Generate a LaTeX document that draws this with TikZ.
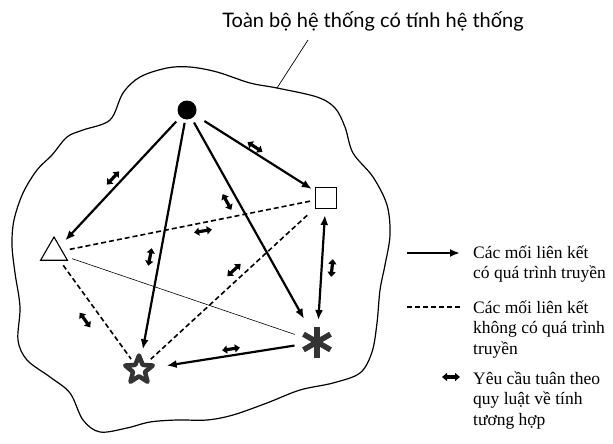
\documentclass[tikz,border=0pt]{standalone}
\usepackage{fontspec}
\setmainfont{Liberation Serif}
\newfontfamily\titlefont{Lato}
\newfontfamily\legendfont{Liberation Serif}
\newcommand{\legfont}{\legendfont\fontsize{17.5}{21}\selectfont}
\usetikzlibrary{arrows.meta,calc,shapes.geometric}
\begin{document}
\begin{tikzpicture}[x=1pt,y=-1pt,
  link/.style={line width=2.2pt,-{Latex[length=10pt,width=8pt]}},
  bilink/.style={line width=2.2pt,{Latex[length=10pt,width=8pt]}-{Latex[length=10pt,width=8pt]}},
  nolink/.style={line width=1.6pt,dash pattern=on 5pt off 3pt},
  thinlink/.style={line width=0.6pt},
  compat/.style={line width=3.2pt,{Triangle[length=5pt,width=8pt]}-{Triangle[length=5pt,width=8pt]}},
  legtext/.style={anchor=base west,inner sep=0},
  astr/.style={line width=5.5pt,draw=black!80},
]
\useasboundingbox (0,0) rectangle (613,444);

% outline
\draw[line width=1.2pt] plot[smooth cycle, tension=0.55] coordinates {
(190,67) (217,72) (250,83) (277,88) (317,97) (335,108) (345,127) (353,153)
(373,177) (387,205) (390,235) (385,265) (380,290) (377,323) (372,352) (360,373)
(333,383) (300,390) (267,403) (233,415) (207,420) (177,420) (150,422) (127,428)
(100,432) (83,420) (70,393) (50,377) (27,360) (18,340) (20,307) (15,273)
(12,245) (14,220) (23,193) (37,170) (52,155) (67,137) (83,130) (110,120)
(123,93) (140,77) (167,68)};

% title and leader
\node[anchor=base, inner sep=0] (title) at (373,28) {\titlefont\fontsize{20}{24}\selectfont Toàn bộ hệ thống có tính hệ thống};
\coordinate (lt) at (308,40);
\coordinate (lb) at (277,88);
\draw[line width=0.7pt] (lt) -- (lb);

% nodes
\node[circle,fill=black,minimum size=19pt,inner sep=0] (a) at (187,110) {};
\node[draw,line width=1.1pt,minimum size=21pt,inner sep=0] (b) at (326,198) {};
\node[draw,line width=1.1pt,regular polygon,regular polygon sides=3,minimum size=31pt,inner sep=0] (c) at (54,252.5) {};
\node[star,star points=5,star point ratio=2.3,minimum size=29pt,inner sep=0,draw=black!80,line width=4.5pt,line join=round,fill=white] (s) at (139,370) {};
\node[circle,minimum size=30pt,inner sep=0] (e) at (317,342) {};
\draw[astr] ($(e)+(0,-15.5)$) -- ($(e)+(0,15.5)$);
\draw[astr] ($(e)+(-13.5,-7.8)$) -- ($(e)+(13.5,7.8)$);
\draw[astr] ($(e)+(-13.5,7.8)$) -- ($(e)+(13.5,-7.8)$);

% connectors
\draw[link] ($(a)!15.8pt!(c)$) -- ($(c)!16.4pt!(a)$);
\draw[link] ($(a)!20.6pt!(b)$) -- ($(b)!16.8pt!(a)$);
\draw[link] ($(a)!13pt!(s)$) -- ($(s)!21pt!(a)$);
\draw[link] ($(a)!14.4pt!(e)$) -- ($(e)!26.6pt!(a)$);
\draw[bilink] ($(b)!17.1pt!(e)$) -- ($(e)!22pt!(b)$);
\draw[link] ($(e)!22.8pt!(s)$) -- ($(s)!28pt!(e)$);
\draw[nolink] ($(c)!16.1pt!(b)$) -- ($(b)!13.9pt!(c)$);
\draw[nolink] ($(c)!15.8pt!(s)$) -- ($(s)!13.5pt!(c)$);
\draw[nolink] ($(b)!25.5pt!(s)$) -- ($(s)!16pt!(b)$);
\draw[thinlink] ($(c)!19.1pt!(e)$) -- ($(e)!23.4pt!(c)$);

% compatibility marks
\coordinate (m1a) at (106.9,184.6); \coordinate (m1b) at (119.1,171.4);
\coordinate (m2a) at (247.5,142.1); \coordinate (m2b) at (262.5,151.9);
\coordinate (m3a) at (222.7,194.1); \coordinate (m3b) at (231.3,209.9);
\coordinate (m4a) at (194.1,232.5); \coordinate (m4b) at (211.9,229.5);
\coordinate (m5a) at (151.7,248.2); \coordinate (m5b) at (148.3,265.8);
\coordinate (m6a) at (79.7,312.7);  \coordinate (m6b) at (90.3,327.3);
\coordinate (m7a) at (240.7,263.9); \coordinate (m7b) at (227.3,276.1);
\coordinate (m8a) at (332.9,259.1); \coordinate (m8b) at (331.1,276.9);
\coordinate (m9a) at (239.9,347.6); \coordinate (m9b) at (222.1,350.4);
\foreach \i in {1,...,9} {\draw[compat] (m\i a) -- (m\i b);}

% legend
\coordinate (l1a) at (407,253); \coordinate (l1b) at (460,253);
\draw[link] (l1a) -- (l1b);
\node[legtext] (t11) at (473,258) {\legfont Các mối liên kết};
\node[legtext] (t12) at (473,278) {\legfont có quá trình truyền};
\coordinate (l2a) at (407,307); \coordinate (l2b) at (460,307);
\draw[nolink,line width=1.3pt] (l2a) -- (l2b);
\node[legtext] (t21) at (473,313) {\legfont Các mối liên kết};
\node[legtext] (t22) at (473,333.5) {\legfont không có quá trình};
\node[legtext] (t23) at (473,354) {\legfont truyền};
\coordinate (l3a) at (442,377); \coordinate (l3b) at (460,377);
\draw[compat] (l3a) -- (l3b);
\node[legtext] (t31) at (473,384) {\legfont Yêu cầu tuân theo};
\node[legtext] (t32) at (473,404.5) {\legfont quy luật về tính};
\node[legtext] (t33) at (473,425) {\legfont tương hợp};
\end{tikzpicture}
\end{document}
